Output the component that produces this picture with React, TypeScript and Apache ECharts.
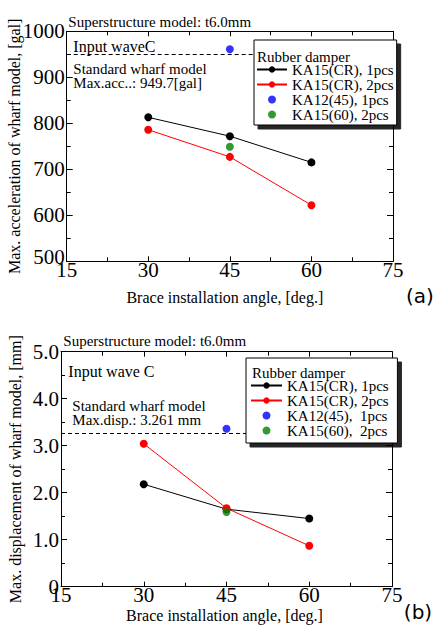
import React, { useEffect, useRef } from "react";
import * as echarts from "echarts";

// ---- data ----
const angles = [30, 45, 60];
const xTicks = [15, 30, 45, 60, 75];

// (a) max acceleration [gal]
const accKA15CR1 = [813, 772, 715];
const accKA15CR2 = [786, 727, 622];
const accKA12_45_1 = [[45, 961]];
const accKA15_60_2 = [[45, 749]];
const accStandard = 949.7;
const accYTicks = ["500", "600", "700", "800", "900", "1000"];

// (b) max displacement [mm]
const dispKA15CR1 = [2.18, 1.65, 1.45];
const dispKA15CR2 = [3.04, 1.67, 0.87];
const dispKA12_45_1 = [[45, 3.36]];
const dispKA15_60_2 = [[45, 1.59]];
const dispStandard = 3.261;
const dispYTicks = ["0", "1.0", "2.0", "3.0", "4.0", "5.0"];

const namesA = ["KA15(CR), 1pcs", "KA15(CR), 2pcs", "KA12(45), 1pcs", "KA15(60), 2pcs"];
const namesB = ["KA15(CR), 1pcs ", "KA15(CR), 2pcs ", "KA12(45),  1pcs", "KA15(60),  2pcs"];

const SERIF = "Liberation Serif";

function xAxes(gridIndex: number) {
  const common = {
    gridIndex,
    type: "value",
    min: 15,
    max: 75,
    interval: 15,
    splitLine: { show: false },
    axisLine: { show: true, onZero: false, lineStyle: { color: "#000", width: 1 } },
    axisTick: { show: true, inside: true, length: 5, lineStyle: { color: "#000" } },
    minorTick: { show: true, splitNumber: 2, length: 4, lineStyle: { color: "#000" } },
    minorSplitLine: { show: false },
  };
  return [
    {
      ...common,
      position: "bottom",
      name: "Brace installation angle, [deg.]",
      nameLocation: "middle",
      nameGap: gridIndex === 0 ? 28 : 21,
      nameMoveOverlap: false,
      nameTextStyle: { fontFamily: SERIF, fontSize: 16, color: "#000", padding: [0, gridIndex === 0 ? 10 : 4, 0, 0] },
      axisLabel: {
        show: true,
        margin: -2,
        fontFamily: SERIF,
        fontSize: 21,
        color: "#000",
        formatter: (v: number) => (xTicks.indexOf(v) >= 0 ? String(v) : ""),
      },
    },
    { ...common, position: "top", axisLabel: { show: false } },
  ];
}

function yAxes(gridIndex: number) {
  const isA = gridIndex === 0;
  const ticks = isA ? accYTicks : dispYTicks;
  const min = isA ? 500 : 0;
  const max = isA ? 1000 : 5;
  const interval = isA ? 100 : 1;
  const common = {
    gridIndex,
    type: "value",
    min,
    max,
    interval,
    splitLine: { show: false },
    axisLine: { show: true, onZero: false, lineStyle: { color: "#000", width: 1 } },
    axisTick: { show: true, inside: true, length: 6, lineStyle: { color: "#000" } },
    minorTick: { show: true, splitNumber: 2, length: 4, lineStyle: { color: "#000" } },
    minorSplitLine: { show: false },
  };
  return [
    {
      ...common,
      position: "left",
      name: isA ? "Max. acceleration of wharf model, [gal]" : "Max. displacement of wharf model, [mm]",
      nameLocation: "middle",
      nameGap: isA ? 44 : 38,
      nameMoveOverlap: false,
      nameTextStyle: { fontFamily: SERIF, fontSize: 16, color: "#000" },
      axisLabel: {
        show: true,
        margin: 2,
        fontFamily: SERIF,
        fontSize: 21,
        color: "#000",
        formatter: (v: number) => {
          const idx = Math.round((v - min) / interval);
          const t = ticks[idx] ?? "";
          return isA && idx === 0 ? "{low|" + t + "}" : t;
        },
        rich: { low: { fontFamily: SERIF, fontSize: 21, color: "#000", padding: [0, 0, 8, 0] } },
      },
    },
    { ...common, position: "right", axisLabel: { show: false } },
  ];
}

function lineSeries(name: string, color: string, ys: number[], xi: number, yi: number, std?: number) {
  const s: any = {
    name,
    type: "line",
    xAxisIndex: xi,
    yAxisIndex: yi,
    data: angles.map((a, i) => [a, ys[i]]),
    symbol: "circle",
    symbolSize: 8,
    lineStyle: { color, width: 1 },
    itemStyle: { color },
    z: 3,
  };
  if (std !== undefined) {
    s.markLine = {
      silent: true,
      symbol: ["none", "none"],
      label: { show: false },
      lineStyle: { color: "#000", type: [4, 3], width: 1 },
      data: [{ yAxis: std }],
      z: 1,
    };
  }
  return s;
}

function scatterSeries(name: string, color: string, data: number[][], xi: number, yi: number) {
  return {
    name,
    type: "scatter",
    xAxisIndex: xi,
    yAxisIndex: yi,
    data,
    symbol: "circle",
    symbolSize: 8,
    itemStyle: { color },
    z: 4,
  };
}

function legend(names: string[], left: number, top: number, padding: number[], itemWidth: number) {
  return {
    show: true,
    orient: "vertical",
    left,
    top,
    data: names,
    padding,
    itemGap: 0,
    itemWidth,
    itemHeight: 8,
    backgroundColor: "#fff",
    borderColor: "#000",
    borderWidth: 1,
    borderRadius: 0,
    shadowColor: "rgba(0,0,0,0.85)",
    shadowBlur: 1,
    shadowOffsetX: 4,
    shadowOffsetY: 4,
    selectedMode: false,
    textStyle: { fontFamily: SERIF, fontSize: 15, color: "#000", lineHeight: 15 },
    z: 10,
  };
}

function txt(text: string, x: number, y: number, size = 15, family = SERIF, align = "left") {
  return {
    type: "text",
    z: 100,
    style: {
      text,
      x,
      y,
      fontFamily: family,
      fontSize: size,
      lineHeight: size - 2,
      fill: "#000",
      align,
      verticalAlign: "middle",
    },
  };
}

export default function App() {
  const ref = useRef<HTMLDivElement>(null);
  useEffect(() => {
    if (!ref.current) return;
    const chart = echarts.init(ref.current, undefined, { renderer: "svg" });
    const option: any = {
      animation: false,
      backgroundColor: "#fff",
      grid: [
        { left: 66.7, top: 31.3, width: 326.3, height: 230, outerBoundsMode: "none", containLabel: false },
        { left: 61, top: 351.7, width: 331, height: 235, outerBoundsMode: "none", containLabel: false },
      ],
      xAxis: [...xAxes(0), ...xAxes(1)],
      yAxis: [...yAxes(0), ...yAxes(1)],
      legend: [
        legend(namesA, 254, 40, [22, 3, 3, 2], 30),
        legend(namesB, 246, 358, [20, 5, 5, 4], 31),
      ],
      series: [
        lineSeries(namesA[0], "#000", accKA15CR1, 0, 0, accStandard),
        lineSeries(namesA[1], "#ff0000", accKA15CR2, 0, 0),
        scatterSeries(namesA[2], "#0000ff", accKA12_45_1, 0, 0),
        scatterSeries(namesA[3], "#008000", accKA15_60_2, 0, 0),
        lineSeries(namesB[0], "#000", dispKA15CR1, 2, 2, dispStandard),
        lineSeries(namesB[1], "#ff0000", dispKA15CR2, 2, 2),
        scatterSeries(namesB[2], "#0000ff", dispKA12_45_1, 2, 2),
        scatterSeries(namesB[3], "#008000", dispKA15_60_2, 2, 2),
      ],
      graphic: [
        txt("Superstructure model: t6.0mm", 68.3, 22),
        txt("Input waveC", 73.3, 46.7, 16),
        txt("Standard wharf model", 73.3, 69.3),
        txt("Max.acc..: 949.7[gal]", 73.3, 82.7),
        txt("Rubber damper", 257, 56.7),
        txt("(a)", 420, 296, 20, "DejaVu Sans", "center"),
        txt("Superstructure model: t6.0mm", 63.3, 341),
        txt("Input wave C", 68.3, 371.7, 16),
        txt("Standard wharf model", 72.3, 405.7),
        txt("Max.disp.: 3.261 mm", 72.3, 420),
        txt("Rubber damper", 252, 372.7),
        txt("(b)", 418, 612, 20, "DejaVu Sans", "center"),
      ],
    };
    chart.setOption(option);
    return () => chart.dispose();
  }, []);
  return (
    <div
      ref={ref}
      style={{ position: "absolute", left: 0, top: 0, width: 433, height: 628 }}
    />
  );
}
